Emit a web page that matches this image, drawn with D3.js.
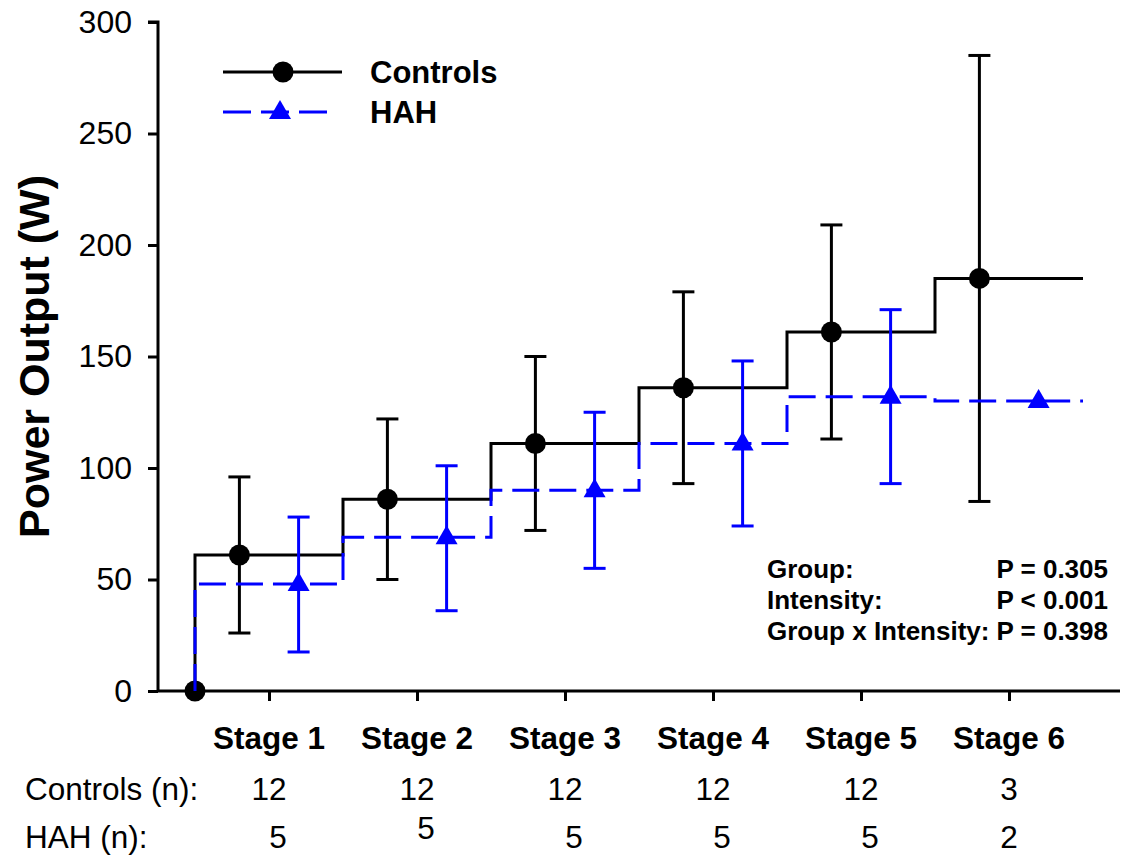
<!DOCTYPE html>
<html>
<head>
<meta charset="utf-8">
<script src="https://cdn.jsdelivr.net/npm/d3@7"></script>
<style>
  html, body { margin: 0; padding: 0; background: #fff; }
  svg { display: block; font-family: "Liberation Sans", Arial, sans-serif; }
</style>
</head>
<body>
<svg id="chart" width="1122" height="855"></svg>
<script>
// ---- data ----
const stages = ["Stage 1", "Stage 2", "Stage 3", "Stage 4", "Stage 5", "Stage 6"];
const controlsMean = [61, 86, 111, 136, 161, 185];
const controlsUpper = [96, 122, 150, 179, 209, 285];
const controlsLower = [26, 50, 72, 93, 113, 85];
const hahMean = [48, 69, 90, 111, 132, 130];
const hahUpper = [78, 101, 125, 148, 171, null];
const hahLower = [17.5, 36, 55, 74, 93, null];
const baselineValue = 0;
const controlsN = ["12", "12", "12", "12", "12", "3"];
const hahN = ["5", "5", "5", "5", "5", "2"];
const yTicks = [0, 50, 100, 150, 200, 250, 300];
const statsLabels = ["Group:", "Intensity:", "Group x Intensity:"];
const statsValues = ["P = 0.305", "P < 0.001", "P = 0.398"];

// ---- layout ----
const svg = d3.select("#chart");
const x = d3.scaleLinear().domain([0.25, 6.75]).range([158, 1120]);
const y = d3.scaleLinear().domain([0, 300]).range([691, 22]);
const offset = 0.2;
const BLUE = "#0000ff";
const dash = "27,10";

// axes
const yAxis = d3.axisLeft(y).tickValues(yTicks).tickSize(10).tickPadding(16);
const gy = svg.append("g").attr("transform", `translate(${x(0.25)},0)`).call(yAxis);
gy.select(".domain").attr("stroke-width", 3).attr("d", `M-10,${y(300)}H0V${y(0)}`);
gy.selectAll(".tick line").attr("stroke-width", 3);
gy.selectAll(".tick text").attr("font-size", 32).attr("fill", "#000")
  .attr("font-family", "Liberation Sans, Arial, sans-serif");

const xAxis = d3.axisBottom(x).tickValues(d3.range(1, 7)).tickSize(10).tickFormat("");
const gx = svg.append("g").attr("transform", `translate(0,${y(0)})`).call(xAxis);
gx.select(".domain").attr("stroke-width", 3).attr("d", `M${x(0.25)},0H${x(6.75)}`);
gx.selectAll(".tick line").attr("stroke-width", 3);

// y title
svg.append("text")
  .attr("transform", `translate(49,${(y(0) + y(300)) / 2}) rotate(-90)`)
  .attr("text-anchor", "middle")
  .attr("font-size", 43).attr("font-weight", "bold")
  .text("Power Output (W)");

// step lines
const stepPts = (vals) => [[0.5, baselineValue]].concat(vals.map((v, i) => [i + 1.5, v]));
const line = d3.line().x(d => x(d[0])).y(d => y(d[1])).curve(d3.curveStepBefore);

// controls
svg.append("path").attr("d", line(stepPts(controlsMean)))
  .attr("fill", "none").attr("stroke", "#000").attr("stroke-width", 3);

const cg = svg.append("g");
controlsMean.forEach((m, i) => {
  const cx = x(i + 1 - offset);
  cg.append("line").attr("x1", cx).attr("x2", cx)
    .attr("y1", y(controlsLower[i])).attr("y2", y(controlsUpper[i]))
    .attr("stroke", "#000").attr("stroke-width", 3);
  [controlsLower[i], controlsUpper[i]].forEach(v => {
    cg.append("line").attr("x1", cx - 11).attr("x2", cx + 11)
      .attr("y1", y(v)).attr("y2", y(v)).attr("stroke", "#000").attr("stroke-width", 3);
  });
});
cg.selectAll("circle.m").data([[0.5, baselineValue]].concat(controlsMean.map((m, i) => [i + 1 - offset, m])))
  .join("circle").attr("class", "m")
  .attr("cx", d => x(d[0])).attr("cy", d => y(d[1])).attr("r", 10.5).attr("fill", "#000");

// HAH
svg.append("path").attr("d", line(stepPts(hahMean)))
  .attr("fill", "none").attr("stroke", BLUE).attr("stroke-width", 3)
  .attr("stroke-dasharray", dash);

const hg = svg.append("g");
hahMean.forEach((m, i) => {
  if (hahUpper[i] == null) return;
  const cx = x(i + 1 + offset);
  hg.append("line").attr("x1", cx).attr("x2", cx)
    .attr("y1", y(hahLower[i])).attr("y2", y(hahUpper[i]))
    .attr("stroke", BLUE).attr("stroke-width", 3);
  [hahLower[i], hahUpper[i]].forEach(v => {
    hg.append("line").attr("x1", cx - 11).attr("x2", cx + 11)
      .attr("y1", y(v)).attr("y2", y(v)).attr("stroke", BLUE).attr("stroke-width", 3);
  });
});
const tri = "M0,-12L11,7L-11,7Z";
hg.selectAll("path.m").data(hahMean.map((m, i) => [i + 1 + offset, m]))
  .join("path").attr("class", "m")
  .attr("transform", d => `translate(${x(d[0])},${y(d[1])})`)
  .attr("d", tri).attr("fill", BLUE);

// legend
const lg = svg.append("g");
lg.append("line").attr("x1", 223).attr("x2", 342).attr("y1", 72).attr("y2", 72)
  .attr("stroke", "#000").attr("stroke-width", 3);
lg.append("circle").attr("cx", 283).attr("cy", 72).attr("r", 10.5).attr("fill", "#000");
lg.append("text").attr("x", 370).attr("y", 83).attr("font-size", 31).attr("font-weight", "bold").text("Controls");
lg.append("line").attr("x1", 223).attr("x2", 330).attr("y1", 112).attr("y2", 112)
  .attr("stroke", BLUE).attr("stroke-width", 3).attr("stroke-dasharray", "28,10");
lg.append("path").attr("transform", "translate(280,112)").attr("d", tri).attr("fill", BLUE);
lg.append("text").attr("x", 370).attr("y", 123).attr("font-size", 31).attr("font-weight", "bold").text("HAH");

// stats
const sg = svg.append("g").attr("font-size", 26).attr("font-weight", "bold");
statsLabels.forEach((t, i) => {
  sg.append("text").attr("x", 767).attr("y", 578 + i * 31).text(t);
  sg.append("text").attr("x", 1108).attr("y", 578 + i * 31).attr("text-anchor", "end").text(statsValues[i]);
});

// stage labels and n rows
const bg = svg.append("g");
stages.forEach((s, i) => {
  bg.append("text").attr("x", x(i + 1)).attr("y", 749).attr("text-anchor", "middle")
    .attr("font-size", 31.5).attr("font-weight", "bold").text(s);
  bg.append("text").attr("x", x(i + 1)).attr("y", 800).attr("text-anchor", "middle")
    .attr("font-size", 31.5).text(controlsN[i]);
  bg.append("text").attr("x", x(i + 1) + (i < 5 ? 9 : 0)).attr("y", i === 1 ? 839 : 848).attr("text-anchor", "middle")
    .attr("font-size", 31.5).text(hahN[i]);
});
bg.append("text").attr("x", 25).attr("y", 800).attr("font-size", 31.5).text("Controls (n):");
bg.append("text").attr("x", 25).attr("y", 848).attr("font-size", 31.5).text("HAH (n):");
</script>
</body>
</html>
